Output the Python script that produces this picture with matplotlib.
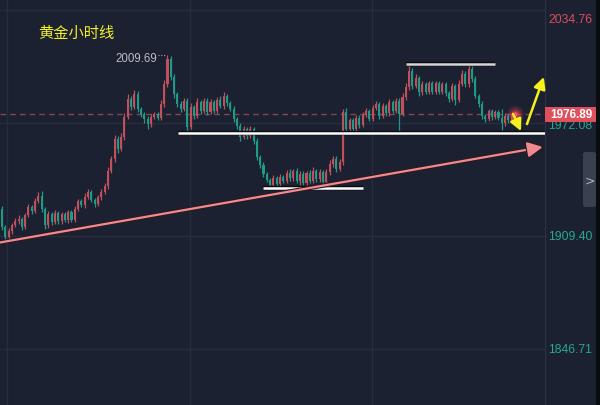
import numpy as np
import matplotlib
matplotlib.use("Agg")
import matplotlib.pyplot as plt
from matplotlib.patches import FancyBboxPatch, Rectangle
import matplotlib.patheffects as pe

# ---------------- data ----------------
title = "黄金小时线"
first_open = 1924.4
closes = [1914.4, 1908.8, 1912.2, 1915.5, 1917.7, 1918.8, 1914.4, 1921.0, 1925.5, 1923.3,
          1928.8, 1931.6, 1924.4, 1915.5, 1921.5, 1917.0, 1922.0, 1917.5, 1921.5, 1918.0,
          1922.5, 1918.5, 1924.4, 1928.8, 1926.5, 1931.0, 1933.8, 1929.5, 1927.0, 1931.0,
          1933.8, 1937.1, 1945.5, 1952.1, 1963.2, 1957.7, 1964.3, 1975.4, 1985.4, 1981.0,
          1988.2, 1979.8, 1977.1, 1974.3, 1971.5, 1975.4, 1977.0, 1975.0, 1982.6, 1993.7,
          2007.6, 1997.6, 1988.2, 1982.6, 1979.8, 1984.3, 1969.9, 1981.0, 1976.0, 1984.0,
          1978.5, 1984.5, 1978.0, 1983.5, 1979.0, 1985.0, 1981.5, 1987.0, 1983.0, 1980.0,
          1974.3, 1970.4, 1964.3, 1968.8, 1964.9, 1968.8, 1962.1, 1953.2, 1948.8, 1943.8,
          1940.5, 1937.7, 1941.5, 1938.0, 1942.0, 1940.0, 1944.5, 1941.5, 1945.5, 1940.0,
          1944.0, 1939.0, 1944.5, 1940.0, 1945.5, 1941.0, 1945.0, 1939.5, 1945.0, 1949.3,
          1952.1, 1946.6, 1950.4, 1978.2, 1968.8, 1973.5, 1969.0, 1975.0, 1971.0, 1976.5,
          1978.5, 1974.5, 1980.5, 1982.5, 1976.0, 1981.5, 1977.5, 1983.5, 1979.0, 1984.5,
          1977.1, 1986.5, 1992.1, 2000.9, 1992.5, 1997.0, 1989.0, 1993.5, 1989.5, 1994.0,
          1989.5, 1994.0, 1989.5, 1993.5, 1988.5, 1985.5, 1992.5, 1985.0, 1993.7, 1999.3,
          1993.7, 2002.0, 1996.5, 1987.1, 1982.6, 1976.0, 1974.5, 1978.5, 1975.5, 1978.0,
          1975.0, 1972.0, 1976.0, 1974.0, 1976.5, 1976.9]
upper_wick = [1.6, 1.0, 1.4, 1.1, 1.5, 2.0, 1.2, 1.4, 1.7, 1.1, 1.5, 2.2, 2.8, 1.2, 1.5, 1.1, 1.8, 1.0, 1.4, 1.1,
              1.5, 1.2, 1.7, 1.4, 1.1, 2.0, 1.5, 1.2, 1.0, 1.4, 1.7, 1.5, 2.1, 1.8, 2.4, 1.4, 2.0, 2.2, 2.5, 1.5,
              2.2, 1.4, 1.2, 1.1, 1.5, 1.7, 1.4, 1.2, 2.0, 2.4, 2.1, 1.7, 1.4, 1.2, 1.5, 1.8, 1.4, 2.0, 1.2, 1.7,
              1.1, 1.5, 1.2, 1.7, 1.1, 1.4, 1.8, 2.1, 1.2, 1.1, 1.4, 1.2, 1.5, 1.7, 1.1, 1.4, 1.2, 1.5, 1.1, 1.4,
              1.2, 1.1, 1.5, 1.2, 1.7, 1.4, 1.5, 1.8, 1.1, 1.4, 1.2, 1.7, 1.1, 1.5, 2.0, 1.2, 1.4, 1.1, 1.5, 2.0,
              1.7, 1.4, 1.5, 1.6, 2.0, 1.5, 1.2, 1.7, 1.4, 1.5, 1.8, 1.2, 1.7, 2.0, 1.4, 1.5, 1.2, 1.8, 1.4, 1.7,
              1.5, 2.0, 2.4, 3.4, 1.7, 2.1, 1.4, 1.7, 1.2, 1.5, 1.4, 1.2, 1.5, 1.4, 1.1, 1.2, 1.7, 1.4, 2.0, 2.4,
              1.5, 2.3, 1.7, 1.4, 1.2, 1.5, 1.1, 1.4, 1.2, 1.5, 1.1, 4.9, 1.4, 1.2, 1.5, 1.1]
lower_wick = [1.4, 2.2, 1.2, 1.5, 1.1, 1.4, 1.7, 1.2, 1.1, 1.5, 1.4, 1.2, 1.7, 2.2, 1.4, 1.5, 1.1, 1.2, 1.4, 1.1,
              1.2, 1.5, 1.1, 1.4, 1.2, 1.5, 1.1, 1.4, 1.7, 1.2, 1.4, 1.1, 1.5, 1.2, 1.7, 2.0, 1.4, 1.5, 1.2, 1.8,
              1.4, 1.7, 1.5, 2.2, 2.7, 1.4, 1.2, 1.5, 1.1, 1.4, 1.5, 1.7, 2.0, 1.4, 1.5, 1.2, 2.8, 1.4, 1.5, 1.2,
              1.4, 1.1, 1.5, 1.2, 1.4, 1.1, 1.2, 1.4, 1.5, 1.2, 1.7, 1.4, 2.0, 1.2, 1.5, 1.4, 1.7, 1.8, 1.5, 1.7,
              1.4, 2.2, 1.2, 1.5, 1.1, 1.4, 1.2, 1.5, 1.7, 1.2, 2.3, 1.4, 1.5, 1.2, 1.1, 1.7, 1.4, 2.2, 1.2, 1.5,
              1.4, 1.7, 1.2, 1.5, 1.8, 1.4, 1.5, 1.2, 1.7, 1.4, 1.2, 1.5, 1.1, 1.4, 1.7, 1.2, 1.5, 1.4, 1.2, 1.5,
              10.6, 1.4, 1.5, 1.7, 1.4, 1.2, 1.7, 1.4, 1.5, 1.2, 1.4, 1.5, 1.2, 1.4, 1.7, 2.0, 1.4, 2.8, 1.5, 1.2,
              1.4, 1.5, 1.7, 1.4, 1.8, 1.5, 2.0, 1.4, 1.7, 1.2, 1.5, 3.8, 1.4, 1.7, 1.2, 1.1]
price_ticks = [2034.76, 1972.08, 1909.40, 1846.71]
last_price = 1976.89
peak_price = 2009.69
peak_index = 50
# drawn horizontal lines: (start index, end index, price)
support_line = (53.2, 164.0, 1966.5)
bottom_line = (78.9, 109.1, 1936.0)
top_line = (122.1, 148.9, 2004.8)
# trend line (index, price) -> (index, price)
trend_start = (-0.6, 1905.8)
trend_end = (163.4, 1958.8)
arrow_down = ((154.4, 1977.1), (156.8, 1967.6))
arrow_up = ((158.6, 1971.5), (163.7, 1997.6))

# ---------------- style ----------------
BG = "#1b2130"
GRID = "#262d3c"
UP = "#c0505c"
DOWN = "#1f9a87"
W, H = 600, 406

fig = plt.figure(figsize=(W / 100, H / 100), dpi=100)
fig.patch.set_facecolor(BG)
ax = fig.add_axes([0, 0, 545 / W, 1])
ax.set_facecolor(BG)
for s in ax.spines.values():
    s.set_visible(False)
ax.spines["right"].set_visible(True)
ax.spines["right"].set_color("#2c3343")
ax.set_xticks([])
ax.set_yticks([])
ax.set_xlim(-0.6, 164.05)
ax.set_ylim(1815.66, 2040.86)

# grid
for p in price_ticks:
    ax.axhline(p, color=GRID, lw=1, zorder=0)
for gx in [1.5, 56.8, 111.8]:
    ax.axvline(gx, color=GRID, lw=1, zorder=0)

closes_a = np.array(closes)
opens_a = np.array([first_open] + closes[:-1])
idx = np.arange(len(closes_a))
highs = np.maximum(opens_a, closes_a) + np.array(upper_wick)
lows = np.minimum(opens_a, closes_a) - np.array(lower_wick)
cols = [UP if c >= o else DOWN for o, c in zip(opens_a, closes_a)]

# last price dashed line
ax.axhline(last_price, color="#8a4452", lw=1, ls=(0, (4, 3)), zorder=1)

ax.vlines(idx, lows, highs, colors=cols, lw=0.9, zorder=2)
bh = np.maximum(np.abs(closes_a - opens_a), 0.6)
ax.bar(idx, bh, bottom=np.minimum(opens_a, closes_a), width=0.62, color=cols,
       linewidth=0, zorder=3)

# peak label
ax.plot([peak_index - 2.8, peak_index - 0.4], [peak_price, peak_price],
        color="#9aa0aa", lw=0.8, ls=(0, (1, 1.5)), zorder=4)
ax.text(peak_index - 3.0, peak_price - 1.4, f"{peak_price:.2f}", color="#b9bec7",
        fontsize=8.3, ha="right", va="center", family="Liberation Sans", zorder=5)

outline = [pe.Stroke(linewidth=3.2, foreground="#0b0d12"), pe.Normal()]
for (x0, x1, p), c in [(support_line, "white"), (bottom_line, "white"), (top_line, "#d6d6d6")]:
    ax.plot([x0, x1], [p, p], color=c, lw=1.8, solid_capstyle="butt",
            path_effects=outline, zorder=6)

# trend line
ax.annotate("", xy=trend_end, xytext=trend_start,
            arrowprops=dict(arrowstyle="-|>,head_length=0.9,head_width=0.45",
                            color="#f08a90", lw=1.6, shrinkA=0, shrinkB=0,
                            path_effects=[pe.Stroke(linewidth=3.2, foreground="#2a1a20"), pe.Normal()]),
            zorder=6)

# glow dot
for s, a in [(160, 0.12), (90, 0.2), (40, 0.35), (12, 0.9)]:
    ax.scatter([155], [last_price], s=s, color="#ff4a5a", alpha=a, linewidths=0, zorder=7)

# yellow arrows
for a, b in [arrow_down, arrow_up]:
    ax.annotate("", xy=b, xytext=a,
                arrowprops=dict(arrowstyle="-|>,head_length=0.7,head_width=0.35",
                                color="#f6f01c", lw=1.8, shrinkA=0, shrinkB=0),
                zorder=8)

# title
fig.text(38 / W, 1 - 33 / H, title, color="#f2ef2a", fontsize=11,
         family=["Noto Sans CJK SC", "DejaVu Sans"], ha="left", va="center")

# right price labels
fig.canvas.draw()
inv = fig.transFigure.inverted()
for p in price_ticks:
    yf = inv.transform(ax.transData.transform((0, p)))[1]
    ypx = (1 - yf) * H
    ypx = max(ypx, 20)
    if abs(p - 1972.08) < 0.01:
        ypx += 2
    col = "#d9505e" if p == price_ticks[0] else "#26a890"
    fig.text(570.5 / W, 1 - ypx / H, f"{p:.2f}", color=col, fontsize=8.8,
             family="Liberation Sans", ha="center", va="center")

# last price box
ylp = inv.transform(ax.transData.transform((0, last_price)))[1]
fig.patches.append(Rectangle((545 / W, ylp - 7.5 / H), 51 / W, 15 / H, transform=fig.transFigure,
                             facecolor="#e0505c", edgecolor="none", zorder=5))
fig.text(571 / W, ylp, f"{last_price:.2f}", color="white", fontsize=8.5, fontweight="bold",
         family="Liberation Sans", ha="center", va="center", zorder=6)

# side tab
fig.patches.append(FancyBboxPatch((583 / W, 1 - 208 / H), 13 / W, 55 / H, transform=fig.transFigure,
                                  boxstyle="round,pad=0,rounding_size=0.005",
                                  facecolor="#394050", edgecolor="none", zorder=5))
fig.text(589.5 / W, 1 - 181 / H, ">", color="#aeb4be", fontsize=9, ha="center", va="center",
         family="DejaVu Sans", zorder=6)
# right dark strip
fig.patches.append(Rectangle((596 / W, 0), 4 / W, 1, transform=fig.transFigure,
                             facecolor="#0b0c0f", edgecolor="none", zorder=5))

fig.savefig("out.png", dpi=100, facecolor=BG)
